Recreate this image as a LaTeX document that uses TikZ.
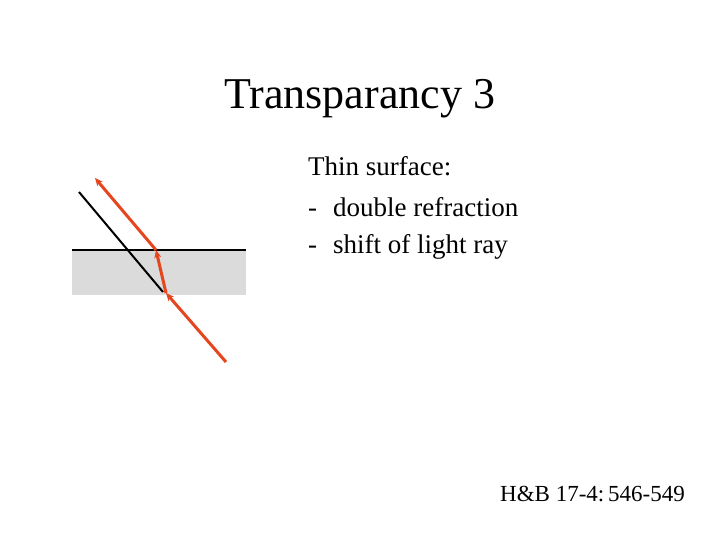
\documentclass[tikz,border=0pt]{standalone}
\usepackage{fontspec}
\setmainfont{Liberation Serif}
\usetikzlibrary{arrows.meta}
\begin{document}
\begin{tikzpicture}[x=1pt,y=-1pt,
  ray/.style={draw={rgb,255:red,230;green,70;blue,30},line width=3pt,-{Stealth[length=8pt,width=7pt]}},
  txt/.style={anchor=west,inner sep=0pt}]
\useasboundingbox (0,0) rectangle (720,540);
\fill[gray!28] (72,250) rectangle (246,295);
\draw[line width=2pt] (72,250) -- (246,250);
\coordinate (b1) at (79,192); \coordinate (b2) at (163,292);
\draw[line width=2pt] (b1) -- (b2);
\coordinate (r0) at (226,362); \coordinate (r1) at (166,293);
\coordinate (r2) at (156,250); \coordinate (r3) at (95,178);
\draw[ray] (r0) -- (r1);
\draw[ray] (r1) -- (r2);
\draw[ray] (r2) -- (r3);
\node[txt,font=\fontsize{44}{48}\selectfont] (t) at (224,99) {Transparancy 3};
\node[txt,font=\fontsize{27}{30}\selectfont] (l1) at (308,166) {Thin surface:};
\node[txt,font=\fontsize{27}{30}\selectfont] (l2) at (308,207) {-\hspace{16pt}double refraction};
\node[txt,font=\fontsize{27}{30}\selectfont] (l3) at (308,247) {-\hspace{16pt}shift of light ray};
\node[txt,font=\fontsize{23}{26}\selectfont] (r) at (500,494) {H\&B 17-4:\,546-549};
\end{tikzpicture}
\end{document}
